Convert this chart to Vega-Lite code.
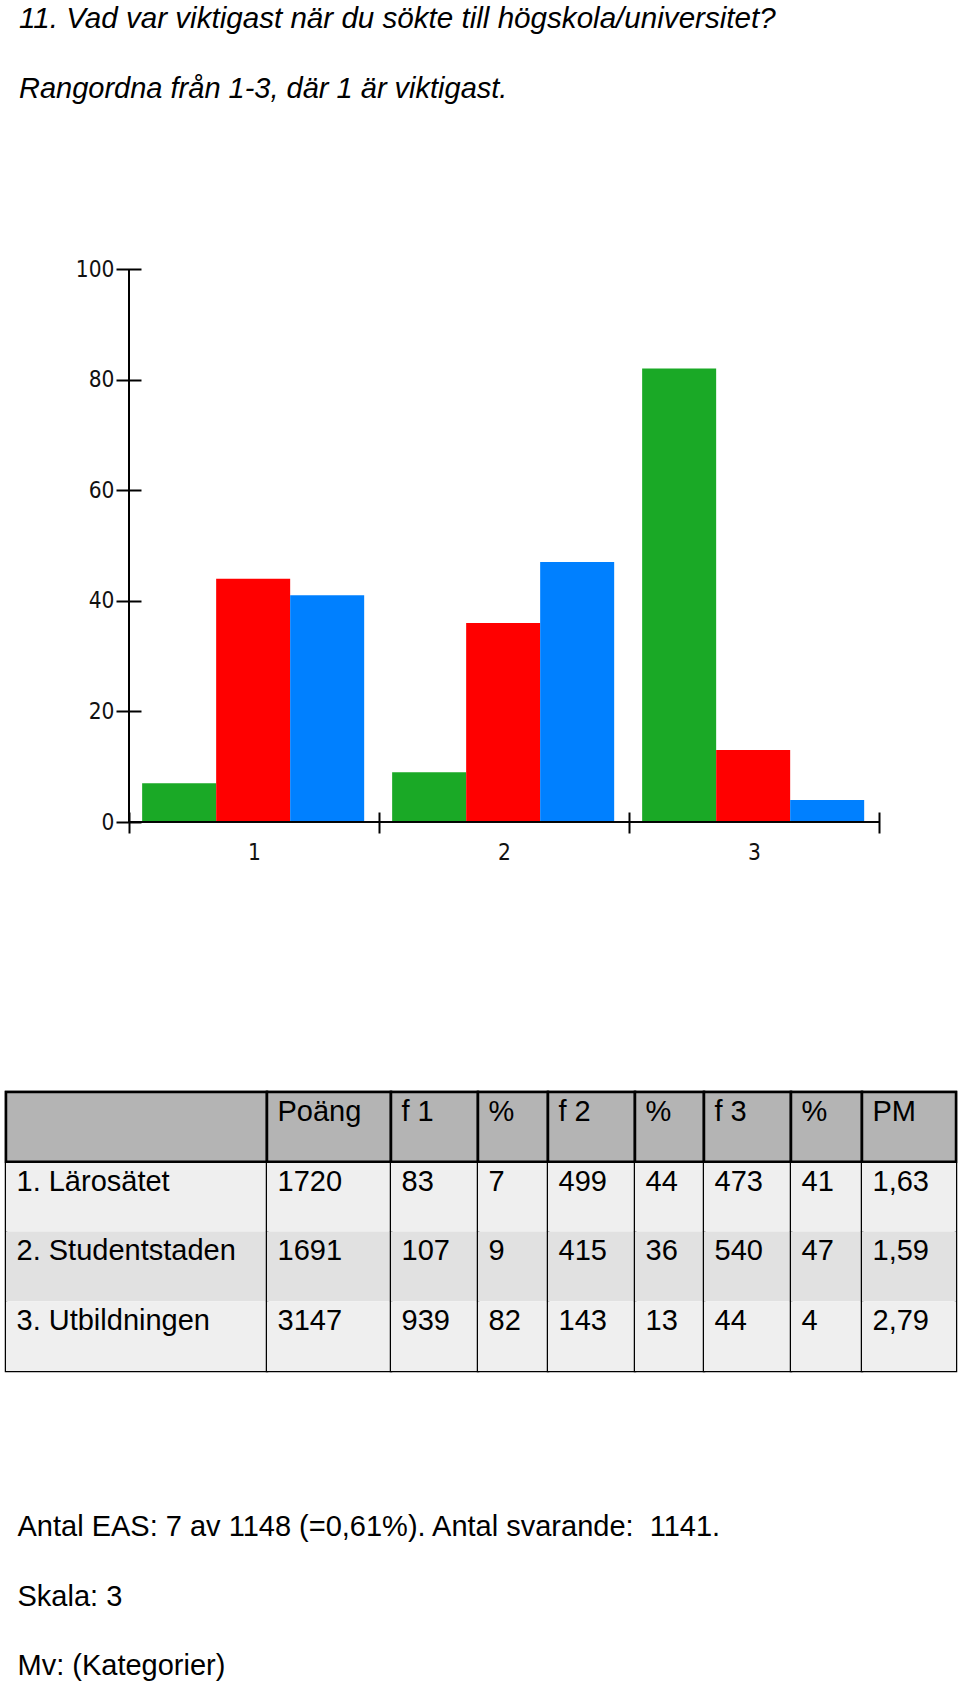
{
  "$schema": "https://vega.github.io/schema/vega-lite/v6.json",
  "background": "white",
  "padding": {"left": 3, "top": 4, "right": 0, "bottom": 0},
  "config": {"view": {"stroke": null}, "font": "Liberation Sans"},
  "datasets": {
    "bars": [
      {"alt": "1", "rank": "f1", "pct": 7},
      {"alt": "1", "rank": "f2", "pct": 44},
      {"alt": "1", "rank": "f3", "pct": 41},
      {"alt": "2", "rank": "f1", "pct": 9},
      {"alt": "2", "rank": "f2", "pct": 36},
      {"alt": "2", "rank": "f3", "pct": 47},
      {"alt": "3", "rank": "f1", "pct": 82},
      {"alt": "3", "rank": "f2", "pct": 13},
      {"alt": "3", "rank": "f3", "pct": 4}
    ],
    "cells": [
      {"rad": "0", "kol": "A", "text": ""},
      {"rad": "0", "kol": "P", "text": "Poäng"},
      {"rad": "0", "kol": "f1", "text": "f 1"},
      {"rad": "0", "kol": "p1", "text": "%"},
      {"rad": "0", "kol": "f2", "text": "f 2"},
      {"rad": "0", "kol": "p2", "text": "%"},
      {"rad": "0", "kol": "f3", "text": "f 3"},
      {"rad": "0", "kol": "p3", "text": "%"},
      {"rad": "0", "kol": "PM", "text": "PM"},
      {"rad": "1", "kol": "A", "text": "1. Lärosätet"},
      {"rad": "1", "kol": "P", "text": "1720"},
      {"rad": "1", "kol": "f1", "text": "83"},
      {"rad": "1", "kol": "p1", "text": "7"},
      {"rad": "1", "kol": "f2", "text": "499"},
      {"rad": "1", "kol": "p2", "text": "44"},
      {"rad": "1", "kol": "f3", "text": "473"},
      {"rad": "1", "kol": "p3", "text": "41"},
      {"rad": "1", "kol": "PM", "text": "1,63"},
      {"rad": "2", "kol": "A", "text": "2. Studentstaden"},
      {"rad": "2", "kol": "P", "text": "1691"},
      {"rad": "2", "kol": "f1", "text": "107"},
      {"rad": "2", "kol": "p1", "text": "9"},
      {"rad": "2", "kol": "f2", "text": "415"},
      {"rad": "2", "kol": "p2", "text": "36"},
      {"rad": "2", "kol": "f3", "text": "540"},
      {"rad": "2", "kol": "p3", "text": "47"},
      {"rad": "2", "kol": "PM", "text": "1,59"},
      {"rad": "3", "kol": "A", "text": "3. Utbildningen"},
      {"rad": "3", "kol": "P", "text": "3147"},
      {"rad": "3", "kol": "f1", "text": "939"},
      {"rad": "3", "kol": "p1", "text": "82"},
      {"rad": "3", "kol": "f2", "text": "143"},
      {"rad": "3", "kol": "p2", "text": "13"},
      {"rad": "3", "kol": "f3", "text": "44"},
      {"rad": "3", "kol": "p3", "text": "4"},
      {"rad": "3", "kol": "PM", "text": "2,79"}
    ]
  },
  "bounds": "flush",
  "spacing": 270,
  "resolve": {"scale": {"color": "independent", "x": "independent", "y": "independent"}},
  "vconcat": [
    {
      "width": 873,
      "height": 553,
      "title": {
        "text": "11. Vad var viktigast när du sökte till högskola/universitet?",
        "subtitle": "Rangordna från 1-3, där 1 är viktigast.",
        "anchor": "start",
        "frame": "group",
        "dx": 13,
        "offset": 153,
        "font": "Liberation Sans",
        "fontSize": 29.6,
        "fontStyle": "italic",
        "fontWeight": "normal",
        "color": "black",
        "subtitleFont": "Liberation Sans",
        "subtitleFontSize": 29,
        "subtitleFontStyle": "italic",
        "subtitleColor": "black",
        "subtitlePadding": 40
      },
      "data": {"name": "bars"},
      "layer": [
        {
          "mark": {"type": "bar"},
          "encoding": {
            "x": {
              "field": "alt", "type": "nominal",
              "scale": {"domain": ["1", "2", "3"], "paddingInner": 0, "paddingOuter": 0.246, "align": 1},
              "axis": {"orient": "bottom", "offset": -10, "domain": false, "tickBand": "extent", "tickExtra": false, "tickSize": 21, "tickWidth": 2, "tickColor": "black", "labelAngle": 0, "labelPadding": 8, "labelFont": "DejaVu Sans Condensed, DejaVu Sans", "labelFontSize": 22.5, "labelColor": "#111", "title": null, "grid": false}
            },
            "xOffset": {"field": "rank", "type": "nominal", "scale": {"domain": ["f1", "f2", "f3"], "paddingInner": 0, "paddingOuter": 0.189, "align": 0.47}},
            "y": {
              "field": "pct", "type": "quantitative",
              "scale": {"domain": [0, 100], "nice": false},
              "axis": {"orient": "left", "offset": -135, "domain": false, "values": [0, 20, 40, 60, 80, 100], "tickSize": 25, "tickWidth": 2, "tickColor": "black", "labelPadding": 2, "labelFont": "DejaVu Sans Condensed, DejaVu Sans", "labelFontSize": 22.5, "labelColor": "#111", "title": null, "grid": false}
            },
            "color": {"field": "rank", "type": "nominal", "scale": {"domain": ["f1", "f2", "f3"], "range": ["#1aa926", "#ff0000", "#0080ff"]}, "legend": null}
          }
        },
        {
          "mark": {"type": "rule", "color": "black", "strokeWidth": 2},
          "encoding": {
            "x": {"datum": "1", "bandPosition": 0},
            "y": {"datum": 0},
            "y2": {"datum": 100}
          }
        },
        {
          "mark": {"type": "tick", "color": "black", "thickness": 2, "size": 251},
          "encoding": {
            "x": {"field": "alt", "type": "nominal"},
            "y": {"datum": 0}
          }
        }
      ]
    },
    {
      "bounds": "flush",
      "spacing": 0,
      "title": {
        "text": ["Antal EAS: 7 av 1148 (=0,61%). Antal svarande:\u00a0 1141.", "Skala: 3", "Mv: (Kategorier)"],
        "orient": "bottom",
        "anchor": "start",
        "frame": "group",
        "offset": 141,
        "dx": 11.5,
        "lineHeight": 69.5,
        "font": "Liberation Sans",
        "fontSize": 29,
        "fontWeight": "normal",
        "color": "black"
      },
      "hconcat": [
        {"width": 261, "height": 279, "view": {"stroke": "black", "strokeWidth": 2.5}, "data": {"name": "cells"}, "transform": [{"filter": "datum.kol === 'A'"}],
         "layer": [
          {"mark": {"type": "rect"}, "encoding": {"y": {"field": "rad", "type": "ordinal", "axis": null, "scale": {"type": "band", "domain": ["0", "1", "2", "3"], "paddingInner": 0, "paddingOuter": 0}}, "color": {"field": "rad", "type": "ordinal", "legend": null, "scale": {"domain": ["0", "1", "2", "3"], "range": ["#b4b4b4", "#efefef", "#e1e1e1", "#efefef"]}}}},
          {"transform": [{"filter": "datum.rad === '0'"}], "mark": {"type": "rect", "fill": "#b4b4b4", "stroke": "black", "strokeWidth": 2.5}, "encoding": {"y": {"field": "rad", "type": "ordinal"}}},
          {"mark": {"type": "text", "align": "left", "baseline": "alphabetic", "dx": 10.5, "dy": -6, "font": "Liberation Sans", "fontSize": 29, "color": "black"}, "encoding": {"y": {"field": "rad", "type": "ordinal"}, "x": {"datum": 0, "type": "quantitative", "axis": null, "scale": {"domain": [0, 1]}}, "text": {"field": "text"}}}
         ]},
        {"width": 124, "height": 279, "view": {"stroke": "black", "strokeWidth": 2.5}, "data": {"name": "cells"}, "transform": [{"filter": "datum.kol === 'P'"}],
         "layer": [
          {"mark": {"type": "rect"}, "encoding": {"y": {"field": "rad", "type": "ordinal", "axis": null, "scale": {"type": "band", "domain": ["0", "1", "2", "3"], "paddingInner": 0, "paddingOuter": 0}}, "color": {"field": "rad", "type": "ordinal", "legend": null, "scale": {"domain": ["0", "1", "2", "3"], "range": ["#b4b4b4", "#efefef", "#e1e1e1", "#efefef"]}}}},
          {"transform": [{"filter": "datum.rad === '0'"}], "mark": {"type": "rect", "fill": "#b4b4b4", "stroke": "black", "strokeWidth": 2.5}, "encoding": {"y": {"field": "rad", "type": "ordinal"}}},
          {"mark": {"type": "text", "align": "left", "baseline": "alphabetic", "dx": 10.5, "dy": -6, "font": "Liberation Sans", "fontSize": 29, "color": "black"}, "encoding": {"y": {"field": "rad", "type": "ordinal"}, "x": {"datum": 0, "type": "quantitative", "axis": null, "scale": {"domain": [0, 1]}}, "text": {"field": "text"}}}
         ]},
        {"width": 87, "height": 279, "view": {"stroke": "black", "strokeWidth": 2.5}, "data": {"name": "cells"}, "transform": [{"filter": "datum.kol === 'f1'"}],
         "layer": [
          {"mark": {"type": "rect"}, "encoding": {"y": {"field": "rad", "type": "ordinal", "axis": null, "scale": {"type": "band", "domain": ["0", "1", "2", "3"], "paddingInner": 0, "paddingOuter": 0}}, "color": {"field": "rad", "type": "ordinal", "legend": null, "scale": {"domain": ["0", "1", "2", "3"], "range": ["#b4b4b4", "#efefef", "#e1e1e1", "#efefef"]}}}},
          {"transform": [{"filter": "datum.rad === '0'"}], "mark": {"type": "rect", "fill": "#b4b4b4", "stroke": "black", "strokeWidth": 2.5}, "encoding": {"y": {"field": "rad", "type": "ordinal"}}},
          {"mark": {"type": "text", "align": "left", "baseline": "alphabetic", "dx": 10.5, "dy": -6, "font": "Liberation Sans", "fontSize": 29, "color": "black"}, "encoding": {"y": {"field": "rad", "type": "ordinal"}, "x": {"datum": 0, "type": "quantitative", "axis": null, "scale": {"domain": [0, 1]}}, "text": {"field": "text"}}}
         ]},
        {"width": 70, "height": 279, "view": {"stroke": "black", "strokeWidth": 2.5}, "data": {"name": "cells"}, "transform": [{"filter": "datum.kol === 'p1'"}],
         "layer": [
          {"mark": {"type": "rect"}, "encoding": {"y": {"field": "rad", "type": "ordinal", "axis": null, "scale": {"type": "band", "domain": ["0", "1", "2", "3"], "paddingInner": 0, "paddingOuter": 0}}, "color": {"field": "rad", "type": "ordinal", "legend": null, "scale": {"domain": ["0", "1", "2", "3"], "range": ["#b4b4b4", "#efefef", "#e1e1e1", "#efefef"]}}}},
          {"transform": [{"filter": "datum.rad === '0'"}], "mark": {"type": "rect", "fill": "#b4b4b4", "stroke": "black", "strokeWidth": 2.5}, "encoding": {"y": {"field": "rad", "type": "ordinal"}}},
          {"mark": {"type": "text", "align": "left", "baseline": "alphabetic", "dx": 10.5, "dy": -6, "font": "Liberation Sans", "fontSize": 29, "color": "black"}, "encoding": {"y": {"field": "rad", "type": "ordinal"}, "x": {"datum": 0, "type": "quantitative", "axis": null, "scale": {"domain": [0, 1]}}, "text": {"field": "text"}}}
         ]},
        {"width": 87, "height": 279, "view": {"stroke": "black", "strokeWidth": 2.5}, "data": {"name": "cells"}, "transform": [{"filter": "datum.kol === 'f2'"}],
         "layer": [
          {"mark": {"type": "rect"}, "encoding": {"y": {"field": "rad", "type": "ordinal", "axis": null, "scale": {"type": "band", "domain": ["0", "1", "2", "3"], "paddingInner": 0, "paddingOuter": 0}}, "color": {"field": "rad", "type": "ordinal", "legend": null, "scale": {"domain": ["0", "1", "2", "3"], "range": ["#b4b4b4", "#efefef", "#e1e1e1", "#efefef"]}}}},
          {"transform": [{"filter": "datum.rad === '0'"}], "mark": {"type": "rect", "fill": "#b4b4b4", "stroke": "black", "strokeWidth": 2.5}, "encoding": {"y": {"field": "rad", "type": "ordinal"}}},
          {"mark": {"type": "text", "align": "left", "baseline": "alphabetic", "dx": 10.5, "dy": -6, "font": "Liberation Sans", "fontSize": 29, "color": "black"}, "encoding": {"y": {"field": "rad", "type": "ordinal"}, "x": {"datum": 0, "type": "quantitative", "axis": null, "scale": {"domain": [0, 1]}}, "text": {"field": "text"}}}
         ]},
        {"width": 69, "height": 279, "view": {"stroke": "black", "strokeWidth": 2.5}, "data": {"name": "cells"}, "transform": [{"filter": "datum.kol === 'p2'"}],
         "layer": [
          {"mark": {"type": "rect"}, "encoding": {"y": {"field": "rad", "type": "ordinal", "axis": null, "scale": {"type": "band", "domain": ["0", "1", "2", "3"], "paddingInner": 0, "paddingOuter": 0}}, "color": {"field": "rad", "type": "ordinal", "legend": null, "scale": {"domain": ["0", "1", "2", "3"], "range": ["#b4b4b4", "#efefef", "#e1e1e1", "#efefef"]}}}},
          {"transform": [{"filter": "datum.rad === '0'"}], "mark": {"type": "rect", "fill": "#b4b4b4", "stroke": "black", "strokeWidth": 2.5}, "encoding": {"y": {"field": "rad", "type": "ordinal"}}},
          {"mark": {"type": "text", "align": "left", "baseline": "alphabetic", "dx": 10.5, "dy": -6, "font": "Liberation Sans", "fontSize": 29, "color": "black"}, "encoding": {"y": {"field": "rad", "type": "ordinal"}, "x": {"datum": 0, "type": "quantitative", "axis": null, "scale": {"domain": [0, 1]}}, "text": {"field": "text"}}}
         ]},
        {"width": 87, "height": 279, "view": {"stroke": "black", "strokeWidth": 2.5}, "data": {"name": "cells"}, "transform": [{"filter": "datum.kol === 'f3'"}],
         "layer": [
          {"mark": {"type": "rect"}, "encoding": {"y": {"field": "rad", "type": "ordinal", "axis": null, "scale": {"type": "band", "domain": ["0", "1", "2", "3"], "paddingInner": 0, "paddingOuter": 0}}, "color": {"field": "rad", "type": "ordinal", "legend": null, "scale": {"domain": ["0", "1", "2", "3"], "range": ["#b4b4b4", "#efefef", "#e1e1e1", "#efefef"]}}}},
          {"transform": [{"filter": "datum.rad === '0'"}], "mark": {"type": "rect", "fill": "#b4b4b4", "stroke": "black", "strokeWidth": 2.5}, "encoding": {"y": {"field": "rad", "type": "ordinal"}}},
          {"mark": {"type": "text", "align": "left", "baseline": "alphabetic", "dx": 10.5, "dy": -6, "font": "Liberation Sans", "fontSize": 29, "color": "black"}, "encoding": {"y": {"field": "rad", "type": "ordinal"}, "x": {"datum": 0, "type": "quantitative", "axis": null, "scale": {"domain": [0, 1]}}, "text": {"field": "text"}}}
         ]},
        {"width": 71, "height": 279, "view": {"stroke": "black", "strokeWidth": 2.5}, "data": {"name": "cells"}, "transform": [{"filter": "datum.kol === 'p3'"}],
         "layer": [
          {"mark": {"type": "rect"}, "encoding": {"y": {"field": "rad", "type": "ordinal", "axis": null, "scale": {"type": "band", "domain": ["0", "1", "2", "3"], "paddingInner": 0, "paddingOuter": 0}}, "color": {"field": "rad", "type": "ordinal", "legend": null, "scale": {"domain": ["0", "1", "2", "3"], "range": ["#b4b4b4", "#efefef", "#e1e1e1", "#efefef"]}}}},
          {"transform": [{"filter": "datum.rad === '0'"}], "mark": {"type": "rect", "fill": "#b4b4b4", "stroke": "black", "strokeWidth": 2.5}, "encoding": {"y": {"field": "rad", "type": "ordinal"}}},
          {"mark": {"type": "text", "align": "left", "baseline": "alphabetic", "dx": 10.5, "dy": -6, "font": "Liberation Sans", "fontSize": 29, "color": "black"}, "encoding": {"y": {"field": "rad", "type": "ordinal"}, "x": {"datum": 0, "type": "quantitative", "axis": null, "scale": {"domain": [0, 1]}}, "text": {"field": "text"}}}
         ]},
        {"width": 94, "height": 279, "view": {"stroke": "black", "strokeWidth": 2.5}, "data": {"name": "cells"}, "transform": [{"filter": "datum.kol === 'PM'"}],
         "layer": [
          {"mark": {"type": "rect"}, "encoding": {"y": {"field": "rad", "type": "ordinal", "axis": null, "scale": {"type": "band", "domain": ["0", "1", "2", "3"], "paddingInner": 0, "paddingOuter": 0}}, "color": {"field": "rad", "type": "ordinal", "legend": null, "scale": {"domain": ["0", "1", "2", "3"], "range": ["#b4b4b4", "#efefef", "#e1e1e1", "#efefef"]}}}},
          {"transform": [{"filter": "datum.rad === '0'"}], "mark": {"type": "rect", "fill": "#b4b4b4", "stroke": "black", "strokeWidth": 2.5}, "encoding": {"y": {"field": "rad", "type": "ordinal"}}},
          {"mark": {"type": "text", "align": "left", "baseline": "alphabetic", "dx": 10.5, "dy": -6, "font": "Liberation Sans", "fontSize": 29, "color": "black"}, "encoding": {"y": {"field": "rad", "type": "ordinal"}, "x": {"datum": 0, "type": "quantitative", "axis": null, "scale": {"domain": [0, 1]}}, "text": {"field": "text"}}}
         ]}
      ]
    }
  ]
}
